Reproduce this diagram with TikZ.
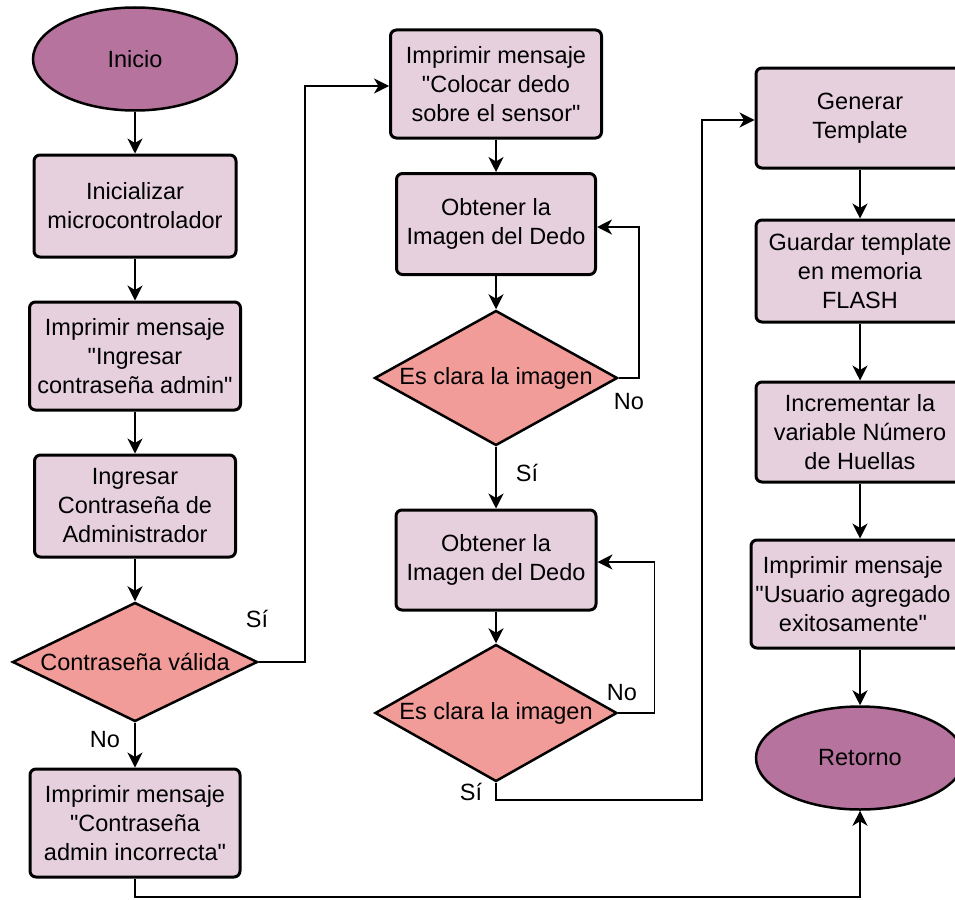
\documentclass[tikz,border=0pt]{standalone}
\usepackage{fontspec}
\setmainfont{Liberation Sans}[Ligatures=TeXOff]
\usetikzlibrary{shapes.geometric,arrows.meta}

\definecolor{termfill}{HTML}{B5739D}
\definecolor{procfill}{HTML}{E6D0DE}
\definecolor{decfill}{HTML}{F19C99}

\tikzset{
  txt/.style={font=\fontsize{23.5}{29}\selectfont, align=center, text=black},
  terminal/.style={txt, ellipse, draw=black, line width=2.5pt, fill=termfill,
    inner sep=0pt, minimum width=#1, minimum height=103pt},
  process/.style={txt, rectangle, rounded corners=6pt, draw=black, line width=3pt,
    fill=procfill, inner sep=0pt},
  decision/.style={diamond, draw=black, line width=2.5pt, fill=decfill, inner sep=0pt},
  arr/.style={draw=black, line width=1.5pt,
    -{Stealth[length=15pt, width=15pt, inset=4.5pt]}},
  lbl/.style={txt, inner sep=0pt}
}

\begin{document}
\begin{tikzpicture}[x=1pt, y=1pt]
\useasboundingbox (0,0) rectangle (955,-899);

% ---- left column: start-up and password check
\node[terminal=204pt] (inicio) at (135,-59) {Inicio};
\node[process, minimum width=202pt, minimum height=102pt] (init) at (135,-206)
  {Inicializar\\microcontrolador};
\node[process, minimum width=211pt, minimum height=108pt] (askpass) at (135,-356)
  {Imprimir mensaje\\"Ingresar\\contraseña admin"};
\node[process, minimum width=201pt, minimum height=102pt] (pass) at (135,-506)
  {Ingresar\\Contraseña de\\Administrador};
\node[decision, minimum width=245pt, minimum height=119pt] (valid) at (135,-662) {};
\node[lbl] (validtxt) at (valid) {Contraseña válida};
\node[process, minimum width=210pt, minimum height=108pt] (wrong) at (135,-823)
  {Imprimir mensaje\\"Contraseña\\admin incorrecta"};

% ---- middle column: fingerprint capture
\node[process, minimum width=211pt, minimum height=108pt] (place) at (496,-84)
  {Imprimir mensaje\\"Colocar dedo\\sobre el sensor"};
\node[process, minimum width=199pt, minimum height=101pt] (get1) at (496,-224)
  {Obtener la\\Imagen del Dedo};
\node[decision, minimum width=243pt, minimum height=135pt] (clear1) at (496,-378) {};
\node[lbl] (clear1txt) at (clear1) {Es clara la imagen};
\node[process, minimum width=200pt, minimum height=100pt] (get2) at (496,-560)
  {Obtener la\\Imagen del Dedo};
\node[decision, minimum width=242pt, minimum height=137pt] (clear2) at (496,-713) {};
\node[lbl] (clear2txt) at (clear2) {Es clara la imagen};

% ---- right column: template storage
\node[process, minimum width=208pt, minimum height=100pt] (gen) at (860,-118)
  {Generar\\Template};
\node[process, minimum width=208pt, minimum height=102pt] (save) at (860,-271)
  {Guardar template\\en memoria\\FLASH};
\node[process, minimum width=208pt, minimum height=100pt] (inc) at (860,-432)
  {Incrementar la\\variable Número\\de Huellas};
\node[process, minimum width=218pt, minimum height=108pt] (done) at (860,-594) {};
\node[lbl] (donetxt) at (853,-594)
  {Imprimir mensaje\\"Usuario agregado\\exitosamente"};
\node[terminal=208pt] (ret) at (860,-758) {Retorno};

% ---- branch labels
\node[lbl] (validyes) at (257,-619) {Sí};
\node[lbl] (validno) at (105,-740) {No};
\node[lbl] (clear1no) at (629,-402) {No};
\node[lbl] (clear1yes) at (527,-473) {Sí};
\node[lbl] (clear2no) at (622,-693) {No};
\node[lbl] (clear2yes) at (471,-792) {Sí};

% ---- bends of the long connectors
\coordinate (toTemplate) at (702,-800);
\coordinate (toReturn) at (500,-897);

% ---- straight flow, top to bottom
\foreach \a/\b in {inicio/init, init/askpass, askpass/pass, pass/valid,
                   valid/wrong, place/get1, get1/clear1, clear1/get2,
                   get2/clear2, gen/save, save/inc, inc/done, done/ret}
  \draw[arr] (\a.south) -- (\b.north);

% ---- routed connectors
\draw[arr] (valid.east) -- ++(46,0) |- ([yshift=-2pt]place.west);
\draw[arr] (clear1.east) -- ++(20,0) |- ([yshift=-3pt]get1.east);
\draw[arr] (clear2.east) -- ++(36,0) |- ([yshift=-2pt]get2.east);
\draw[arr] (clear2.south) |- (toTemplate) |- ([yshift=-2pt]gen.west);
\draw[arr] (wrong.south) |- (toReturn) -| (ret.south);
\end{tikzpicture}
\end{document}
